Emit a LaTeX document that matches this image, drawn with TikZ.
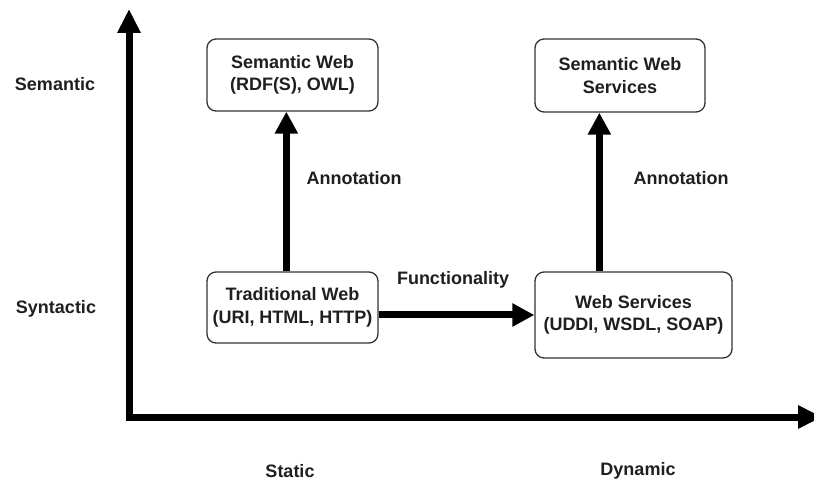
\documentclass[tikz,border=0pt]{standalone}
\usepackage{fontspec}
\setmainfont{Liberation Sans}
\usetikzlibrary{arrows.meta,calc}
\begin{document}
\begin{tikzpicture}[x=1pt,y=-1pt,
  lbl/.style={font=\fontsize{18}{22.5}\selectfont\bfseries, text=black!88, inner sep=0pt, align=center},
  box/.style={draw=black!80, line width=1.3pt, rounded corners=9pt, fill=white,
              font=\fontsize{18}{22.5}\selectfont\bfseries, text=black!88, align=center, inner sep=0pt},
  heavy/.style={line width=7pt, -{Triangle[length=22pt,width=22pt]}},
  axis/.style={line width=7pt, line join=miter,
               {Triangle[length=24pt,width=22pt]}-{Triangle[length=24pt,width=22pt]}},
]
\useasboundingbox (0,0) rectangle (814,486);

% axes
\coordinate (ytip) at (129,9);
\coordinate (origin) at (129,417);
\coordinate (xtip) at (822,417);
\draw[axis] (ytip) -- (origin) -- (xtip);

% boxes
\node[box, minimum width=171pt, minimum height=72pt] (sw) at (292.5,75)
  {Semantic Web\\(RDF(S), OWL)};
\node[box, minimum width=170pt, minimum height=73pt] (sws) at (620,75.5)
  {Semantic Web\\Services};
\node[box, minimum width=171pt, minimum height=71pt] (tw) at (292.5,307.5)
  {Traditional Web\\(URI, HTML, HTTP)};
\node[box, minimum width=197pt, minimum height=86pt] (ws) at (633.5,315)
  {Web Services\\(UDDI, WSDL, SOAP)};

% connectors
\draw[heavy] ($(tw.north west)+(80,0)$) -- ($(sw.south west)+(80,0)$);
\draw[heavy] ($(ws.north west)+(65,0)$) -- ($(sws.south west)+(65,0)$);
\draw[heavy] (tw.east |- ws.west) -- (ws.west);

% labels
\node[lbl] (ann1) at (354,178) {Annotation};
\node[lbl] (ann2) at (681,178) {Annotation};
\node[lbl] (func) at (453,280) {Functionality};
\node[lbl] (semantic) at (55,84) {Semantic};
\node[lbl] (syntactic) at (56,309) {Syntactic};
\node[lbl] (static) at (290,471) {Static};
\node[lbl] (dynamic) at (638,471) {Dynamic};
\end{tikzpicture}
\end{document}
